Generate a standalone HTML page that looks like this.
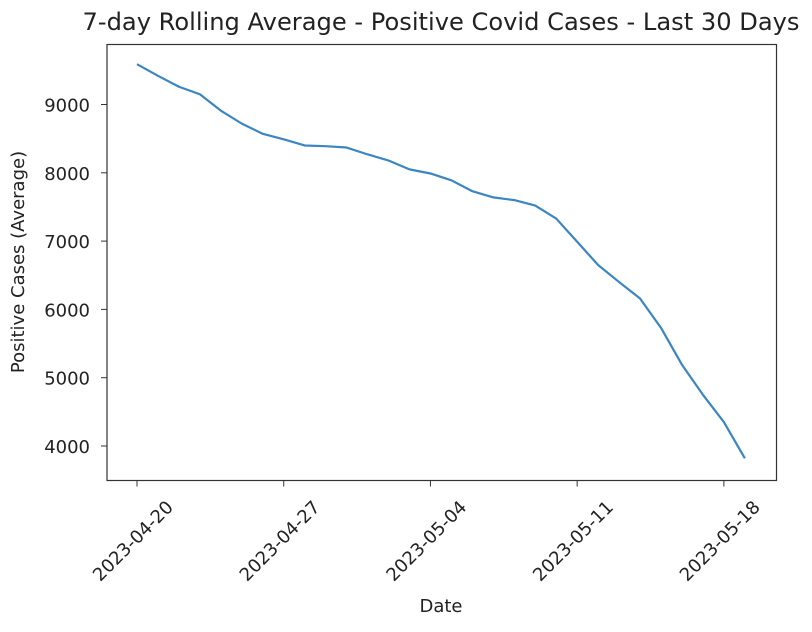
<!DOCTYPE html>
<html><head><meta charset="utf-8"><style>body{margin:0;background:#fff}svg{display:block;font-family:"DejaVu Sans","Liberation Sans",sans-serif}</style></head>
<body>
<svg id="c" width="812" height="632"></svg>
<script>
const dates=["2023-04-20","2023-04-21","2023-04-22","2023-04-23","2023-04-24","2023-04-25","2023-04-26","2023-04-27","2023-04-28","2023-04-29","2023-04-30","2023-05-01","2023-05-02","2023-05-03","2023-05-04","2023-05-05","2023-05-06","2023-05-07","2023-05-08","2023-05-09","2023-05-10","2023-05-11","2023-05-12","2023-05-13","2023-05-14","2023-05-15","2023-05-16","2023-05-17","2023-05-18","2023-05-19"];
const values=[9590,9420,9260,9150,8910,8720,8570,8490,8400,8390,8370,8270,8180,8050,7990,7890,7730,7640,7600,7520,7330,6990,6650,6400,6160,5730,5190,4750,4350,3820];
const yTicks=[4000,5000,6000,7000,8000,9000];
const xTickLabels=["2023-04-20","2023-04-27","2023-05-04","2023-05-11","2023-05-18"];
const NS="http://www.w3.org/2000/svg",svg=document.getElementById('c');
const L=107,R=776.5,T=44.5,B=480.5;
const d0=Date.parse(dates[0]);
const xs=d=>137+(Date.parse(d)-d0)/864e5*20.96;
const ys=v=>104.5+(9000-v)*0.0683;
function mk(t,a,p){const e=document.createElementNS(NS,t);for(const k in a)e.setAttribute(k,a[k]);(p||svg).appendChild(e);return e;}
let t=mk('text',{x:441,y:30,'text-anchor':'middle','font-size':24,fill:'#222',textLength:717,lengthAdjust:'spacingAndGlyphs'});t.textContent="7-day Rolling Average - Positive Covid Cases - Last 30 Days";


let p=mk('polyline',{points:values.map((v,i)=>xs(dates[i])+','+ys(v)).join(' '),fill:'none',stroke:'#3b86c0','stroke-width':2.2,'stroke-linejoin':'round'});


let f=mk('rect',{x:L,y:T,width:R-L,height:B-T,fill:'none',stroke:'#333','stroke-width':1.2});


yTicks.forEach(v=>{const y=ys(v);mk('line',{x1:L-6,x2:L,y1:y,y2:y,stroke:'#333'});
const tx=mk('text',{x:90,y:y+7,'text-anchor':'end','font-size':18,fill:'#222'});tx.textContent=v;

});
xTickLabels.forEach(d=>{const x=xs(d);mk('line',{x1:x,x2:x,y1:B,y2:B+6,stroke:'#333'});
const cx=x-4,cy=541;
const tx=mk('text',{x:cx,y:cy+6,'text-anchor':'middle','font-size':18,fill:'#222',transform:`rotate(-45 ${cx} ${cy})`});tx.textContent=d;

});
let xl=mk('text',{x:441,y:612,'text-anchor':'middle','font-size':18,fill:'#222'});xl.textContent="Date";


let yl=mk('text',{x:24,y:262,'text-anchor':'middle','font-size':18,fill:'#222',transform:'rotate(-90 24 262)'});yl.textContent="Positive Cases (Average)";


</script>
</body></html>
